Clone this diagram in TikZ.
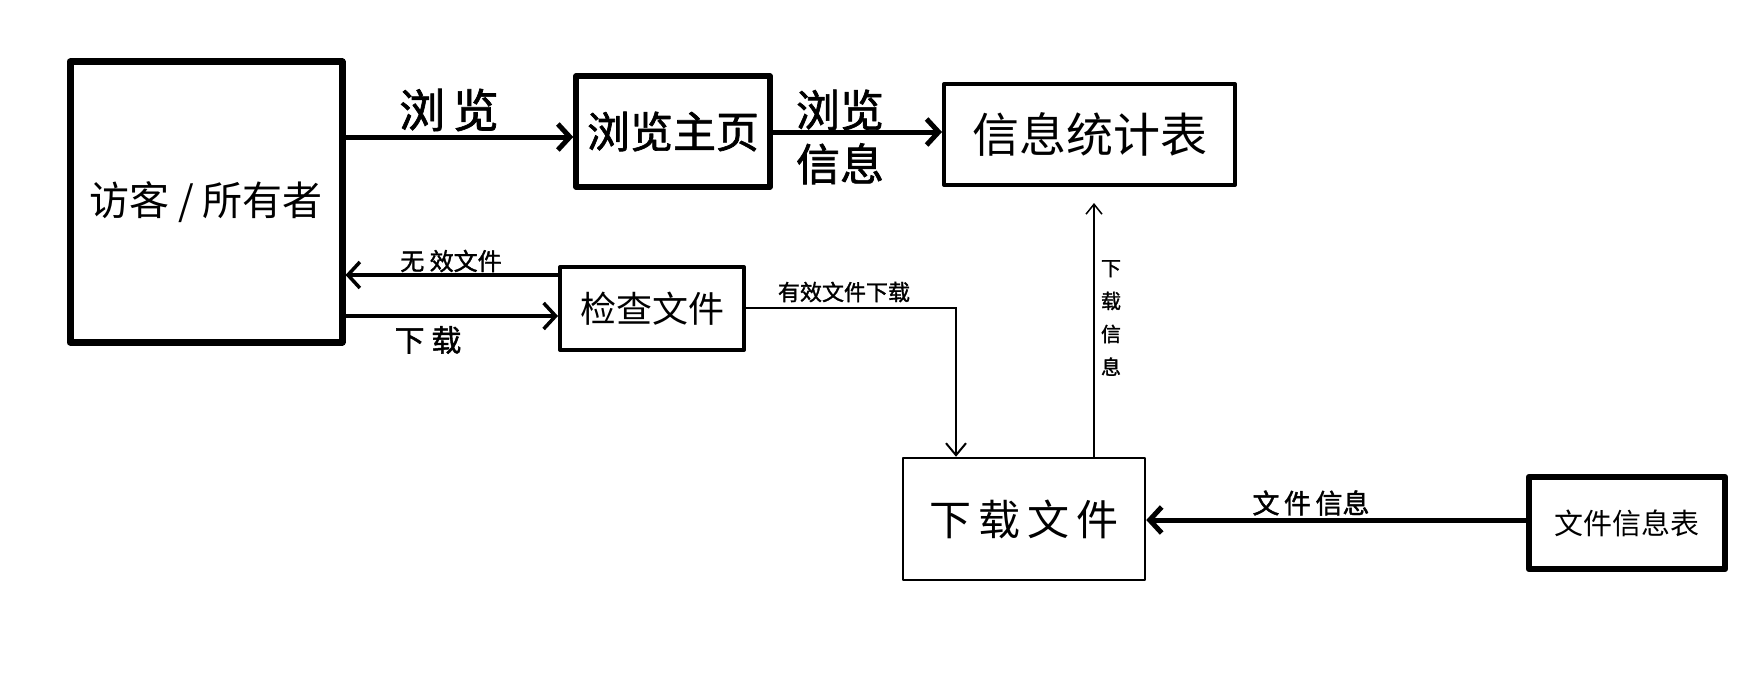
\documentclass[tikz,border=0pt]{standalone}
\usepackage{fontspec}
\newfontfamily\cjk{Noto Sans CJK SC}
\newfontfamily\cjkb[FakeBold=1.5]{Noto Sans CJK SC}
\usetikzlibrary{arrows.meta}
\begin{document}
\begin{tikzpicture}[x=1pt,y=-1pt,
  box/.style={draw,inner sep=0pt,font=\cjk,line join=round},
  flow/.style={-{Straight Barb[length=12pt,width=26pt,line width=#1]},line width=#1},
  flow/.default=3pt,
  lbl/.style={inner sep=0pt,font=\cjk}]
\useasboundingbox (0,0) rectangle (1760,690);
\fill[white] (0,0) rectangle (1760,690);
% nodes
\node[box,line width=7pt,minimum width=272pt,minimum height=280pt,font=\cjk\fontsize{40}{44}\selectfont] (visitor) at (206,202) {访客 / 所有者};
\node[box,line width=5.5pt,minimum width=194pt,minimum height=111pt,font=\cjkb\fontsize{43}{46}\selectfont] (home) at (673,131.5) {浏览主页};
\node[box,line width=4pt,minimum width=291pt,minimum height=101pt,font=\cjk\fontsize{47}{50}\selectfont] (stats) at (1089.5,134.5) {信息统计表};
\node[box,line width=4pt,minimum width=184pt,minimum height=83pt,font=\cjk\fontsize{36}{38}\selectfont] (check) at (652,308.5) {检查文件};
\node[box,line width=2.5pt,minimum width=242pt,minimum height=122pt,font=\cjk\fontsize{42}{44}\selectfont] (download) at (1024,519) {下\,载\,文\,件};
\node[box,line width=6.5pt,minimum width=196pt,minimum height=92pt,font=\cjk\fontsize{29}{30}\selectfont] (fileinfo) at (1627,523) {文件信息表};
% connectors
\draw[flow=5pt] (visitor.east |- 0,137) -- (home.west |- 0,137);
\node[lbl,font=\cjkb\fontsize{46}{48}\selectfont] (l1) at (449,110) {浏\,览};
\draw[flow=5pt] (home.east |- 0,132) -- (stats.west |- 0,132);
\node[lbl,font=\cjkb\fontsize{44}{46}\selectfont,align=center] (l2) at (840,137) {浏览\\[8pt]信息};
\draw[flow=3.5pt] (check.west |- 0,275) -- (visitor.east |- 0,275);
\node[lbl,font=\cjkb\fontsize{24}{26}\selectfont] (l3) at (451,261) {无 效文件};
\draw[flow=3.5pt] (visitor.east |- 0,316) -- (check.west |- 0,316);
\node[lbl,font=\cjkb\fontsize{30}{32}\selectfont] (l4) at (428,340) {下 载};
\draw[-{Straight Barb[length=12pt,width=20pt,line width=2pt]},line width=2pt] (check.east |- 0,307.5) -| (download.north -| 956,0);
\node[lbl,font=\cjkb\fontsize{22}{24}\selectfont] (l5) at (844,292) {有效文件下载};
\draw[-{Straight Barb[length=10pt,width=16pt,line width=1.5pt]},line width=1.5pt] (download.north -| 1094,0) -- ([yshift=-16pt]stats.south -| 1094,0);
\node[lbl,font=\cjkb\fontsize{20}{33}\selectfont,align=center] (l6) at (1111,318) {下\\载\\信\\息};
\draw[flow=5pt] (fileinfo.west |- 0,520) -- (download.east |- 0,520);
\node[lbl,font=\cjkb\fontsize{27}{28}\selectfont] (l7) at (1311,503) {文\,件\,信息};
\end{tikzpicture}
\end{document}
